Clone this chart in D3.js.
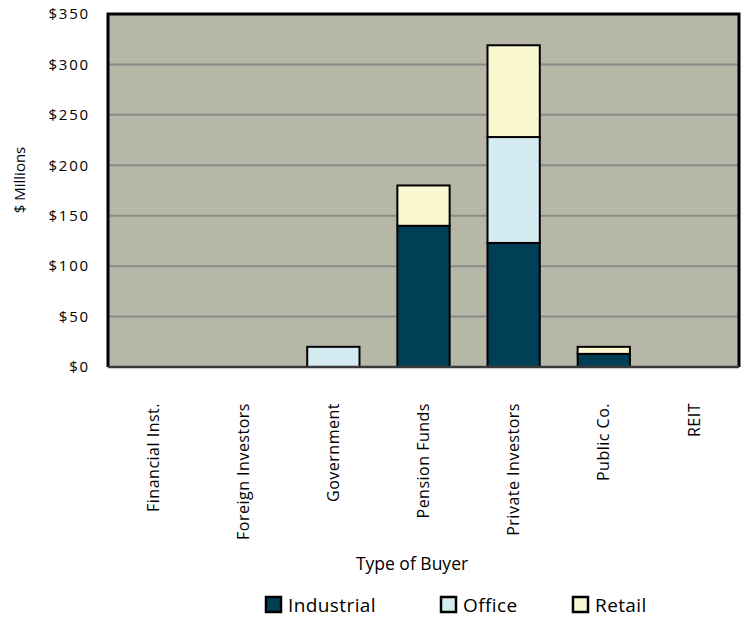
<!DOCTYPE html>
<html>
<head>
<meta charset="utf-8">
<script src="https://d3js.org/d3.v7.min.js"></script>
<style>
  body { margin: 0; background: #fff; }
  svg text { font-family: "Open Sans", sans-serif; fill: #000; }
</style>
</head>
<body>
<div id="chart"></div>
<script>
// data
var buyers = ["Financial Inst.", "Foreign Investors", "Government", "Pension Funds", "Private Investors", "Public Co.", "REIT"]
var industrial = [0, 0, 0, 140, 123, 13, 0]
var office = [0, 0, 20, 0, 105, 0, 0]
var retail = [0, 0, 0, 40, 91, 7, 0]
var seriesNames = ["Industrial", "Office", "Retail"]
var seriesColors = ["#003f56", "#d4ebf2", "#faf8d0"]
var yTicks = [0, 50, 100, 150, 200, 250, 300, 350]

var W = 745, H = 618
var plot = { left: 108, top: 14, right: 739, bottom: 367 }

var svg = d3.select("#chart").append("svg")
    .attr("width", W)
    .attr("height", H)

var x = d3.scaleBand()
    .domain(buyers)
    .range([plot.left, plot.right])
    .paddingInner(0.42)
    .paddingOuter(0.21)

var y = d3.scaleLinear()
    .domain([0, 350])
    .range([plot.bottom, plot.top])

// plot background
svg.append("rect")
    .attr("x", plot.left)
    .attr("y", plot.top)
    .attr("width", plot.right - plot.left)
    .attr("height", plot.bottom - plot.top)
    .attr("fill", "#b7b7a8")

// gridlines
svg.append("g")
    .selectAll("line")
    .data(yTicks.slice(1, -1))
    .join("line")
    .attr("x1", plot.left)
    .attr("x2", plot.right)
    .attr("y1", function (d) { return y(d) })
    .attr("y2", function (d) { return y(d) })
    .attr("stroke", "#8a8a86")
    .attr("stroke-width", 2)

// stacked bars
var rows = buyers.map(function (b, i) {
    return { buyer: b, Industrial: industrial[i], Office: office[i], Retail: retail[i] }
})
var stacked = d3.stack().keys(seriesNames)(rows)

svg.append("g")
    .selectAll("g")
    .data(stacked)
    .join("g")
    .attr("fill", function (d, i) { return seriesColors[i] })
    .selectAll("rect")
    .data(function (d) { return d.filter(function (p) { return p[1] - p[0] > 0 }) })
    .join("rect")
    .attr("x", function (d) { return x(d.data.buyer) })
    .attr("width", x.bandwidth())
    .attr("y", function (d) { return y(d[1]) })
    .attr("height", function (d) { return y(d[0]) - y(d[1]) })
    .attr("stroke", "#000")
    .attr("stroke-width", 2)

// plot border (top, left, right dark; bottom axis line)
svg.append("path")
    .attr("d", "M" + plot.left + "," + plot.bottom + "V" + plot.top + "H" + plot.right + "V" + plot.bottom)
    .attr("fill", "none")
    .attr("stroke", "#000")
    .attr("stroke-width", 3)

// y axis
var yAxis = svg.append("g")
    .attr("transform", "translate(" + plot.left + ",0)")
    .call(d3.axisLeft(y).tickValues(yTicks).tickSize(0).tickPadding(18)
        .tickFormat(function (d) { return "$" + d }))
yAxis.select(".domain").remove()
yAxis.selectAll("text")
    .style("font-size", "15px")
    .style("letter-spacing", "1.8px")
    .style("font-family", "Open Sans, sans-serif")
    .attr("fill", "#000")

// x axis
var xAxis = svg.append("g")
    .attr("transform", "translate(0," + plot.bottom + ")")
    .call(d3.axisBottom(x).tickSize(0).tickPadding(0))
xAxis.select(".domain")
    .attr("stroke", "#3a3a3a")
    .attr("stroke-width", 2.5)
    .attr("d", "M" + plot.left + ",0H" + plot.right)
xAxis.selectAll("text")
    .style("font-size", "16px")
    .style("letter-spacing", "0.5px")
    .style("font-family", "Open Sans, sans-serif")
    .attr("fill", "#000")
    .attr("text-anchor", "end")
    .attr("dy", "0.35em")
    .attr("transform", "translate(0,36) rotate(-90)")
    .attr("y", 0)
    .attr("x", 0)

// axis titles
svg.append("text")
    .attr("transform", "translate(20,180) rotate(-90)")
    .attr("text-anchor", "middle")
    .attr("dy", "0.35em")
    .style("font-size", "15px")
    .text("$ Millions")

svg.append("text")
    .attr("x", 412)
    .attr("y", 570)
    .attr("text-anchor", "middle")
    .style("font-size", "17.5px")
    .text("Type of Buyer")

// legend
var legendX = [266, 441, 573]
var legend = svg.append("g")
    .selectAll("g")
    .data(seriesNames)
    .join("g")
    .attr("transform", function (d, i) { return "translate(" + legendX[i] + ",597)" })
legend.append("rect")
    .attr("width", 15)
    .attr("height", 15)
    .attr("fill", function (d, i) { return seriesColors[i] })
    .attr("stroke", "#000")
    .attr("stroke-width", 2.5)
legend.append("text")
    .attr("x", 22)
    .attr("y", 8)
    .attr("dy", "0.35em")
    .style("font-size", "19px")
    .style("letter-spacing", "0.4px")
    .text(function (d) { return d })
</script>
</body>
</html>
